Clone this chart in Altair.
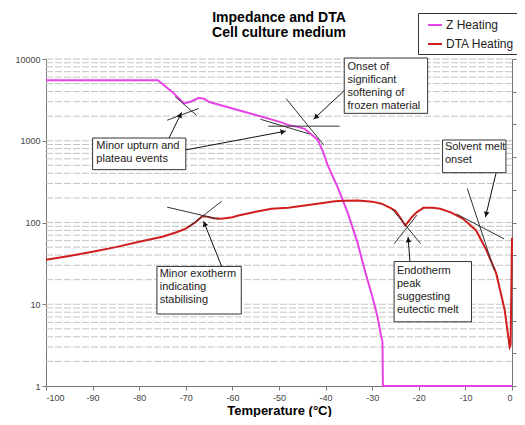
import math
import altair as alt
import pandas as pd

TOTAL_W, TOTAL_H = 509, 409
W_EST, H_EST = 469, 327  # approximate plot area (for arrowhead angles only)
X0, X1 = -100, 0
YDEC = 4  # decades on log axis (1 .. 10000)

MAGENTA = "#E642E6"
RED = "#D01E1E"
FONT = "Liberation Sans"

series_names = ["Z Heating", "DTA Heating"]
title_text = "Impedance and DTA\nCell culture medium"

# Impedance (Z heating)
z_temp = [-100, -76, -72.9, -70.4, -69, -67.2, -66, -65.1, -60, -55, -50, -48.1,
          -46, -44.5, -41.7, -40.6, -39.6, -37.4, -35.3, -33.2, -31.5, -30.0,
          -28.9, -28.1, -27.8, -27.7, 0]
z_val = [5500, 5500, 3960, 2860, 3000, 3350, 3250, 3000, 2480, 2065, 1713, 1563,
         1479, 1400, 1030, 745, 510, 269, 134, 58, 25, 12.6,
         7.2, 4.1, 3.5, 1, 1]

# DTA heating
dta_temp = [-100, -95, -90, -85, -80, -75, -72, -70, -68, -67, -66.5, -65.5,
            -64, -62.3, -60, -58.7, -55, -51.6, -48, -44.5, -41, -38,
            -36, -33, -30, -28, -26, -25, -24, -22.9, -21.5, -20.4,
            -19, -17, -15.4, -13, -10.5, -7.7, -5.5, -3.4, -1.6, -0.5,
            -0.3, 0]
dta_val = [35, 39, 44, 50, 58, 67, 76, 84, 100, 112, 119, 118,
           113, 111, 116, 122, 135, 147, 152, 161, 172, 182,
           184, 186, 180, 170, 150, 138, 115, 92, 116, 134,
           151, 151, 147, 132, 111, 80, 46, 24, 8.7, 3.0,
           3.2, 65]

x_ticks = list(range(-100, 1, 10))
y_ticks = [1, 10, 100, 1000, 10000]
grid_vals = [m * 10 ** k for k in range(4) for m in range(2, 10)] + [10, 100, 1000, 10000]
right_ticks = list(range(0, 11))

# annotation boxes
box_text = ["Onset of\nsignificant\nsoftening of\nfrozen material",
            "Minor upturn and\nplateau events",
            "Minor exotherm\nindicating\nstabilising",
            "Endotherm\npeak\nsuggesting\neutectic melt",
            "Solvent melt\nonset"]
box_x1 = [-36.0, -90.0, -76.2, -25.3, -14.9]
box_x2 = [-18.1, -70.0, -58.1, -8.7, -1.3]
box_ytop = [10280, 1080, 29, 33.3, 1021]
box_ybot = [2163, 443, 7.6, 6.1, 407]
text_x = [-35.3, -89.2, -75.6, -24.7, -14.4]
text_ytop = [9460, 1021, 27.4, 30.6, 993]

# tangent construction lines
tan_x1 = [-74.0, -72.3, -54.0, -52.3, -48.5, -74.0, -69.4, -25.7, -25.3, -9.6, -11.9]
tan_y1 = [1782, 3475, 1832, 1508, 3287, 154, 88, 146, 55, 261, 127]
tan_x2 = [-67.2, -67.7, -43.4, -37.0, -40.4, -63.0, -62.3, -19.6, -20.4, -3.8, -1.7]
tan_y2 = [2488, 2047, 1207, 1508, 889, 110, 182, 55, 123, 26, 63]

# arrows (start -> tip)
arr_x1 = [-36.0, -73.6, -70.0, -62.3, -21.9, -3.4]
arr_y1 = [4105, 1080, 773, 29, 33.3, 407]
arr_x2 = [-42.6, -70.9, -48.5, -66.2, -22.3, -5.7]
arr_y2 = [1832, 2225, 1312, 104, 66.8, 116]


def to_px(x, y):
    return ((x - X0) / (X1 - X0) * W_EST, H_EST - math.log10(y) / YDEC * H_EST)


def to_data(px, py):
    return (X0 + px / W_EST * (X1 - X0), 10 ** ((H_EST - py) / H_EST * YDEC))


head_x, head_y, head_a = [], [], []
for a, b, c, d in zip(arr_x1, arr_y1, arr_x2, arr_y2):
    p1 = to_px(a, b)
    p2 = to_px(c, d)
    dx, dy = p2[0] - p1[0], p2[1] - p1[1]
    L = math.hypot(dx, dy)
    ux, uy = dx / L, dy / L
    hx, hy = to_data(p2[0] - ux * 3, p2[1] - uy * 3)
    head_x.append(hx)
    head_y.append(hy)
    head_a.append(math.degrees(math.atan2(ux, -uy)) % 360)

xscale = alt.Scale(domain=[X0, X1], nice=False, zero=False)
yscale = alt.Scale(type="log", domain=[1, 10000], nice=False)

xaxis = alt.Axis(values=x_ticks, labelExpr="datum.value + ''", title="Temperature (°C)",
                 grid=False, domainColor="#777", tickColor="#777", tickSize=4,
                 labelFontSize=9, labelColor="#444", labelFont=FONT, labelPadding=3,
                 titleFontSize=13, titleFontWeight="bold", titleColor="black",
                 titleFont=FONT, titlePadding=2)
yaxis = alt.Axis(values=y_ticks, format="d", title=None, grid=False,
                 domainColor="#777", tickColor="#777", tickSize=4,
                 labelFontSize=9, labelColor="#444", labelFont=FONT, labelPadding=2)


def X(f):
    return alt.X(f, scale=xscale, axis=xaxis)


def Y(f):
    return alt.Y(f, scale=yscale, axis=yaxis)


line_df = pd.DataFrame({
    "t": z_temp + dta_temp,
    "v": z_val + dta_val,
    "s": [series_names[0]] * len(z_temp) + [series_names[1]] * len(dta_temp),
    "o": list(range(len(z_temp))) + list(range(len(dta_temp))),
})

grid = alt.Chart(pd.DataFrame({"g": grid_vals})).mark_rule(
    color="#c4c4c4", strokeDash=[7, 2], strokeWidth=1
).encode(y=Y("g:Q"))

lines = alt.Chart(line_df).mark_line(strokeWidth=2).encode(
    x=X("t:Q"), y=Y("v:Q"),
    color=alt.Color("s:N", scale=alt.Scale(domain=series_names, range=[MAGENTA, RED]),
                    legend=alt.Legend(orient="none", legendX=372, legendY=-46, title=None,
                                      symbolType="stroke", symbolSize=196, symbolStrokeWidth=2,
                                      symbolOffset=5,
                                      labelFontSize=12, labelFont=FONT, labelColor="#222",
                                      strokeColor="#333", fillColor="white", padding=4,
                                      rowPadding=5, labelOffset=3)),
    order="o:Q",
)

tan_df = pd.DataFrame({"x1": tan_x1, "y1": tan_y1, "x2": tan_x2, "y2": tan_y2})
tangents = alt.Chart(tan_df).mark_rule(color="#333", strokeWidth=1).encode(
    x=X("x1:Q"), y=Y("y1:Q"), x2="x2:Q", y2="y2:Q")

arr_df = pd.DataFrame({"x1": arr_x1, "y1": arr_y1, "x2": arr_x2, "y2": arr_y2})
arrows = alt.Chart(arr_df).mark_rule(color="#111", strokeWidth=1).encode(
    x=X("x1:Q"), y=Y("y1:Q"), x2="x2:Q", y2="y2:Q")

head_df = pd.DataFrame({"hx": head_x, "hy": head_y, "ha": head_a})
heads = alt.Chart(head_df).mark_point(shape="triangle-up", filled=True, color="#111",
                                      size=32, opacity=1).encode(
    x=X("hx:Q"), y=Y("hy:Q"), angle=alt.Angle("ha:Q", scale=None))

box_df = pd.DataFrame({"bx1": box_x1, "bx2": box_x2, "by1": box_ytop, "by2": box_ybot,
                       "tx": text_x, "ty": text_ytop, "label": box_text})
boxes = alt.Chart(box_df).mark_rect(fill="white", stroke="#333", strokeWidth=1).encode(
    x=X("bx1:Q"), x2="bx2:Q", y=Y("by1:Q"), y2="by2:Q")
texts = alt.Chart(box_df).mark_text(align="left", baseline="top", lineBreak="\n",
                                    fontSize=11, lineHeight=13, font=FONT,
                                    color="#222").encode(
    x=X("tx:Q"), y=Y("ty:Q"), text="label:N")

title = alt.Chart(pd.DataFrame({"tt": [title_text], "tx": [-50]})).mark_text(
    align="center", baseline="middle", lineBreak="\n", fontSize=14, lineHeight=15,
    font=FONT, fontWeight="bold", color="black"
).encode(x=X("tx:Q"), y=alt.value(-41), text="tt:N")

main = alt.layer(grid, lines, tangents, arrows, heads, boxes, texts, title)

right = alt.Chart(pd.DataFrame({"r": [0, 10]})).mark_point(opacity=0).encode(
    x=alt.value(0),
    y=alt.Y("r:Q", scale=alt.Scale(domain=[0, 10], nice=False),
            axis=alt.Axis(orient="right", values=right_ticks, labels=False, grid=False,
                          title=None, domainColor="#777", tickColor="#777", tickSize=4)),
)

chart = alt.layer(main, right).resolve_scale(y="independent").properties(
    width=TOTAL_W, height=TOTAL_H,
    autosize=alt.AutoSizeParams(type="fit", contains="padding"),
    padding={"left": 6, "top": 3, "right": 0, "bottom": 0},
).configure_view(stroke=None)

chart.save("out.html", embed_options={"renderer": "svg", "actions": False})
